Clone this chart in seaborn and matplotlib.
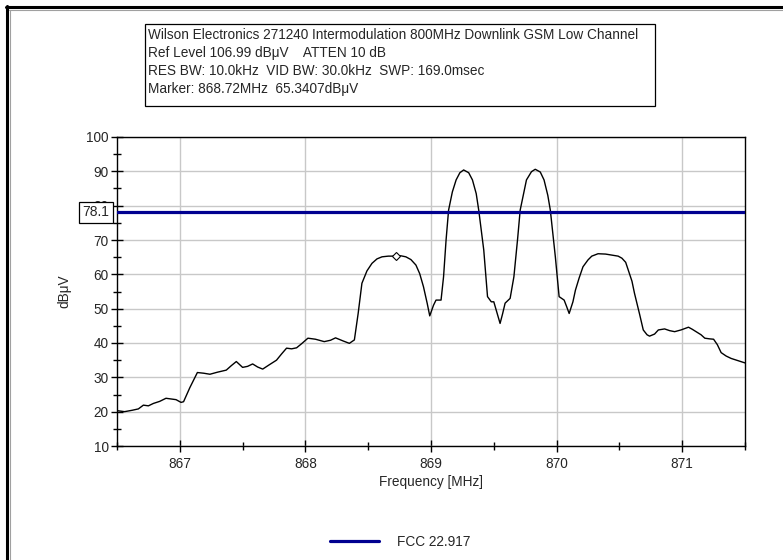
import matplotlib
matplotlib.use("Agg")
import matplotlib.pyplot as plt
import seaborn as sns
import pandas as pd
from matplotlib.lines import Line2D
from matplotlib.patches import Rectangle

# ---- data ----
freq_mhz = [866.50, 866.56, 866.62, 866.67, 866.71, 866.75, 866.79, 866.84, 866.89, 866.93,
            866.97, 867.01, 867.03, 867.08, 867.14, 867.19, 867.24, 867.30, 867.37, 867.41,
            867.45, 867.50, 867.54, 867.58, 867.62, 867.66, 867.71, 867.77, 867.81, 867.85,
            867.89, 867.93, 867.97, 868.02, 868.08, 868.15, 868.20, 868.24, 868.30, 868.35,
            868.39, 868.42, 868.45, 868.49, 868.53, 868.57, 868.61, 868.66, 868.71, 868.76,
            868.80, 868.84, 868.88, 868.91, 868.94, 868.97, 868.99, 869.02, 869.04, 869.08,
            869.10, 869.12, 869.14, 869.17, 869.20, 869.23, 869.26, 869.30, 869.33, 869.36,
            869.38, 869.40, 869.42, 869.45, 869.48, 869.50, 869.53, 869.55, 869.57, 869.59,
            869.63, 869.66, 869.69, 869.71, 869.74, 869.76, 869.80, 869.83, 869.87, 869.90,
            869.93, 869.95, 869.97, 869.99, 870.02, 870.06, 870.08, 870.10, 870.13, 870.15,
            870.18, 870.21, 870.25, 870.28, 870.33, 870.39, 870.44, 870.49, 870.52, 870.55,
            870.57, 870.60, 870.62, 870.66, 870.69, 870.72, 870.74, 870.78, 870.81, 870.86,
            870.90, 870.94, 870.99, 871.05, 871.08, 871.11, 871.15, 871.18, 871.22, 871.25,
            871.28, 871.31, 871.35, 871.39, 871.44, 871.48, 871.50]
level_dbuv = [20.3, 20.0, 20.4, 20.8, 21.9, 21.7, 22.4, 23.0, 23.9, 23.7,
              23.5, 22.7, 22.9, 27.0, 31.4, 31.2, 30.9, 31.5, 32.1, 33.4,
              34.6, 32.9, 33.2, 33.9, 33.0, 32.4, 33.6, 35.0, 36.8, 38.5,
              38.3, 38.6, 39.8, 41.4, 41.1, 40.4, 40.8, 41.5, 40.6, 39.9,
              40.9, 48.6, 57.4, 61.0, 63.2, 64.5, 65.1, 65.3, 65.3, 65.4,
              65.1, 64.3, 62.7, 60.2, 56.4, 51.5, 47.9, 51.0, 52.5, 52.5,
              59.3, 70.0, 78.7, 84.0, 87.5, 89.6, 90.4, 89.6, 87.5, 83.5,
              78.7, 73.0, 67.1, 53.5, 52.0, 52.0, 48.2, 45.7, 48.5, 51.6,
              53.0, 59.3, 70.5, 78.7, 84.0, 87.5, 89.9, 90.6, 89.8, 87.5,
              83.0, 78.7, 72.0, 65.1, 53.5, 52.5, 50.6, 48.6, 52.0, 55.4,
              59.0, 62.2, 64.2, 65.3, 66.0, 65.9, 65.6, 65.3, 64.7, 63.5,
              61.3, 58.0, 54.5, 48.5, 43.8, 42.4, 42.0, 42.6, 43.8, 44.1,
              43.6, 43.3, 43.8, 44.6, 44.0, 43.3, 42.4, 41.4, 41.2, 41.1,
              39.5, 37.2, 36.2, 35.5, 34.9, 34.4, 34.2]
limit_level = 78.1
limit_label = "FCC 22.917"
marker_freq = 868.72
marker_level = 65.3407
header_lines = [
    "Wilson Electronics 271240 Intermodulation 800MHz Downlink GSM Low Channel",
    "Ref Level 106.99 dB\u03bcV    ATTEN 10 dB",
    "RES BW: 10.0kHz  VID BW: 30.0kHz  SWP: 169.0msec",
    "Marker: 868.72MHz  65.3407dB\u03bcV",
]
x_ticks = [867, 868, 869, 870, 871]
y_ticks = [10, 20, 30, 40, 50, 60, 70, 80, 90, 100]

df = pd.DataFrame({"freq": freq_mhz, "level": level_dbuv})

sns.set_theme(style="white")
plt.rcParams["font.family"] = ["Liberation Sans", "DejaVu Sans"]

W, H = 783, 560
fig = plt.figure(figsize=(W / 100, H / 100), dpi=100)
ax = fig.add_axes([117 / W, 1 - 446 / H, 628 / W, 309 / H])

sns.lineplot(data=df, x="freq", y="level", ax=ax, color="black", linewidth=1.0,
             estimator=None, sort=False, legend=False)
ax.axhline(limit_level, color="#000090", linewidth=2.3, zorder=3)
ax.plot([marker_freq], [marker_level], marker="D", markersize=4.5,
        markerfacecolor="white", markeredgecolor="black", markeredgewidth=0.8, zorder=4)

ax.set_xlim(866.5, 871.5)
ax.set_ylim(10, 100)
ax.set_xticks(x_ticks)
ax.set_yticks(y_ticks)
ax.set_xticks([866.5 + 0.5 * i for i in range(11)], minor=True)
ax.set_yticks([15 + 10 * i for i in range(9)], minor=True)
ax.grid(True, which="major", color="#c8c8c8", linewidth=1.0)
ax.tick_params(which="major", direction="inout", length=8, width=1, color="black",
               labelsize=9.8, pad=2, left=True, bottom=True)
ax.tick_params(which="minor", direction="inout", length=6, width=1, color="black",
               left=True, bottom=True)
ax.tick_params(axis="x", pad=4)
for s in ax.spines.values():
    s.set_color("black")
    s.set_linewidth(1.0)
ax.set_xlabel("Frequency [MHz]", fontsize=9.8, labelpad=3)
ax.set_ylabel("dB\u03bcV", fontsize=9.8, labelpad=11)

# limit value box on the y-axis
ax.annotate(f"{limit_level}", xy=(0, limit_level), xycoords=("axes fraction", "data"),
            xytext=(-15, 0), textcoords="offset points", ha="center", va="center",
            fontsize=10, zorder=10, annotation_clip=False,
            bbox=dict(boxstyle="square,pad=0.25", fc="white", ec="black", lw=0.9))

# header text box
fig.add_artist(Rectangle((145 / W, 1 - 106 / H), 510 / W, 82 / H, transform=fig.transFigure,
                         facecolor="white", edgecolor="black", linewidth=0.9))
fig.text(148 / W, 1 - 28 / H, "\n".join(header_lines), ha="left", va="top",
         fontsize=9.85, linespacing=1.36)

# legend
handle = Line2D([0], [0], color="#000090", linewidth=2.3)
fig.legend([handle], [limit_label], loc="center", bbox_to_anchor=(400 / W, 1 - 542 / H),
           frameon=False, fontsize=9.8, handlelength=3.6, handletextpad=1.3)

# window border (top and left)
fig.add_artist(Line2D([6 / W, 1], [1 - 7 / H, 1 - 7 / H], transform=fig.transFigure,
                      color="black", linewidth=2.2))
fig.add_artist(Line2D([7 / W, 7 / W], [0, 1 - 6 / H], transform=fig.transFigure,
                      color="black", linewidth=2.2))
fig.add_artist(Line2D([9 / W, 1], [1 - 9.5 / H, 1 - 9.5 / H], transform=fig.transFigure,
                      color="#a0a0a0", linewidth=0.8))
fig.add_artist(Line2D([9.5 / W, 9.5 / W], [0, 1 - 9.5 / H], transform=fig.transFigure,
                      color="#a0a0a0", linewidth=0.8))

fig.savefig("out.png", dpi=100)
